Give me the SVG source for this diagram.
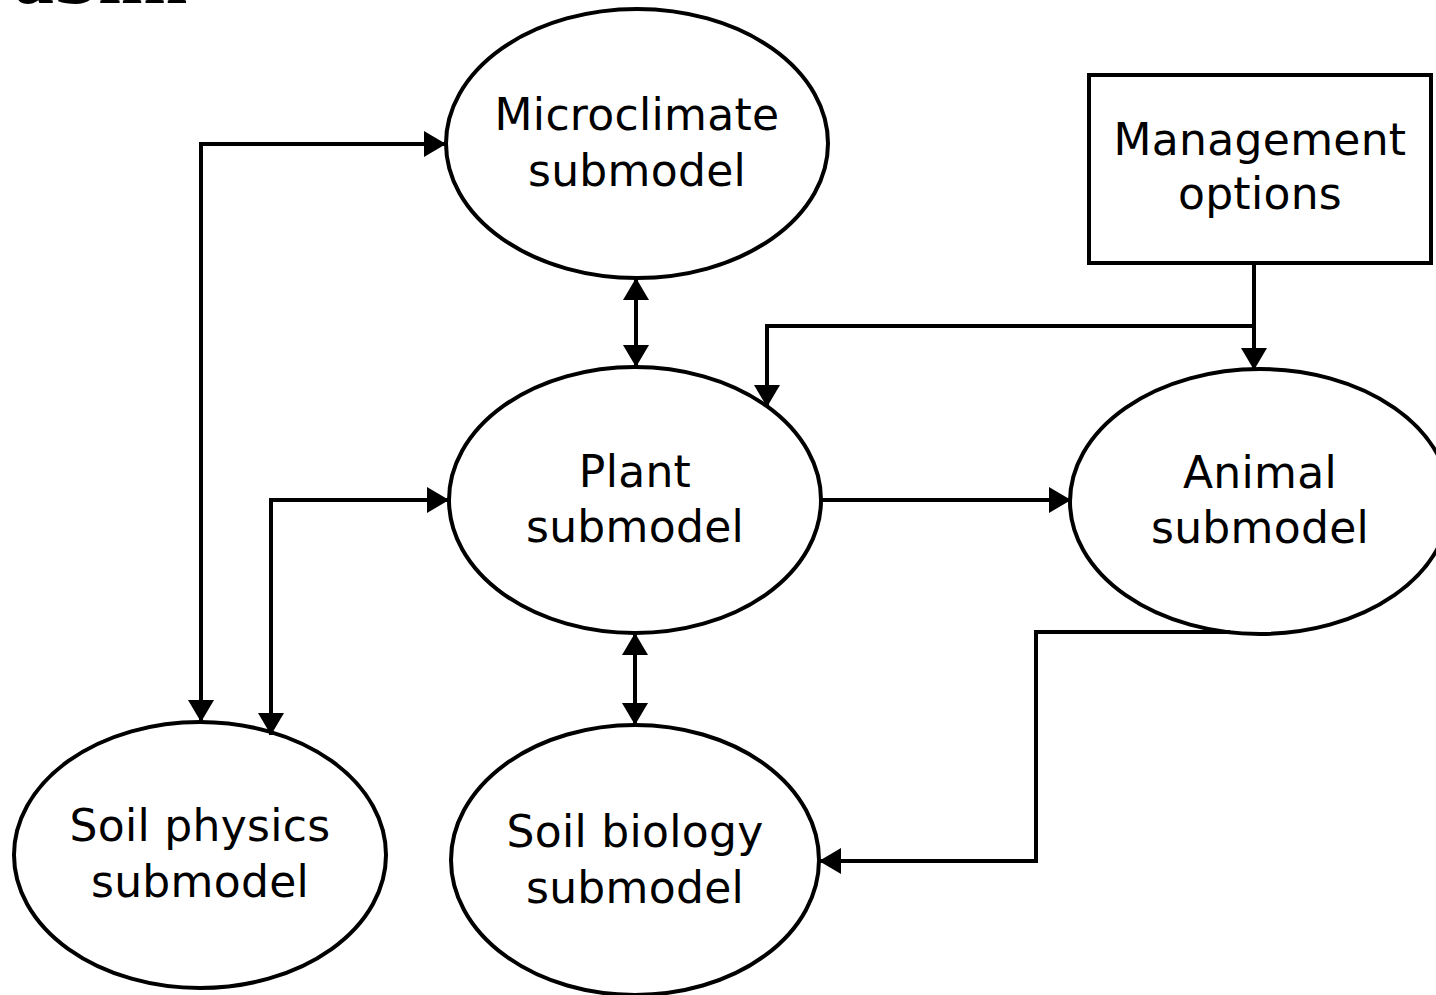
<svg xmlns="http://www.w3.org/2000/svg" width="1436" height="995" viewBox="0 0 1436 995">
<style>
.n{fill:#fff;stroke:#000;stroke-width:4}
.t{font-family:"DejaVu Sans",sans-serif;font-size:44px;letter-spacing:0.3px;fill:#000;text-anchor:middle}
.c{fill:none;stroke:#000;stroke-width:4}
</style>
<defs>
<marker id="ae" markerUnits="userSpaceOnUse" markerWidth="24" markerHeight="26" refX="22" refY="13" orient="auto"><path d="M0,0 L22,13 L0,26 Z" fill="#000"/></marker>
<marker id="as" markerUnits="userSpaceOnUse" markerWidth="24" markerHeight="26" refX="0" refY="13" orient="auto"><path d="M22,0 L0,13 L22,26 Z" fill="#000"/></marker>
</defs>
<rect width="1436" height="995" fill="#fff"/>
<text x="14" y="3" style="font-family:'Liberation Serif',serif;font-weight:bold;font-size:80px">aSim</text>
<g id="microclimate"><ellipse class="n" cx="637" cy="143.5" rx="191" ry="134.5"/><text class="t" x="637" y="130">Microclimate</text><text class="t" x="637" y="186">submodel</text></g>
<g id="management"><rect class="n" x="1089" y="75" width="342" height="188"/><text class="t" x="1260" y="155">Management</text><text class="t" x="1260" y="209">options</text></g>
<g id="plant"><ellipse class="n" cx="635" cy="500" rx="186" ry="133"/><text class="t" x="635" y="487">Plant</text><text class="t" x="635" y="542">submodel</text></g>
<g id="animal"><ellipse class="n" cx="1260" cy="501.5" rx="190" ry="132.5"/><text class="t" x="1260" y="488">Animal</text><text class="t" x="1260" y="543">submodel</text></g>
<g id="soilphysics"><ellipse class="n" cx="200" cy="855" rx="186" ry="133"/><text class="t" x="200" y="841">Soil physics</text><text class="t" x="200" y="897">submodel</text></g>
<g id="soilbiology"><ellipse class="n" cx="635" cy="860" rx="184" ry="135"/><text class="t" x="635" y="847">Soil biology</text><text class="t" x="635" y="903">submodel</text></g>
<g id="connectors">
<path class="c" d="M201,722 V144 H446" marker-start="url(#as)" marker-end="url(#ae)"/>
<path class="c" d="M271,735 V500 H449" marker-start="url(#as)" marker-end="url(#ae)"/>
<path class="c" d="M636,278 V367" marker-start="url(#as)" marker-end="url(#ae)"/>
<path class="c" d="M635,633 V725" marker-start="url(#as)" marker-end="url(#ae)"/>
<path class="c" d="M821,500 H1071" marker-end="url(#ae)"/>
<path class="c" d="M1254,263 V370" marker-end="url(#ae)"/>
<path class="c" d="M1254,326 H767 V407" marker-end="url(#ae)"/>
<path class="c" d="M1230,632 H1036 V861 H819" marker-end="url(#ae)"/>
</g>
</svg>
